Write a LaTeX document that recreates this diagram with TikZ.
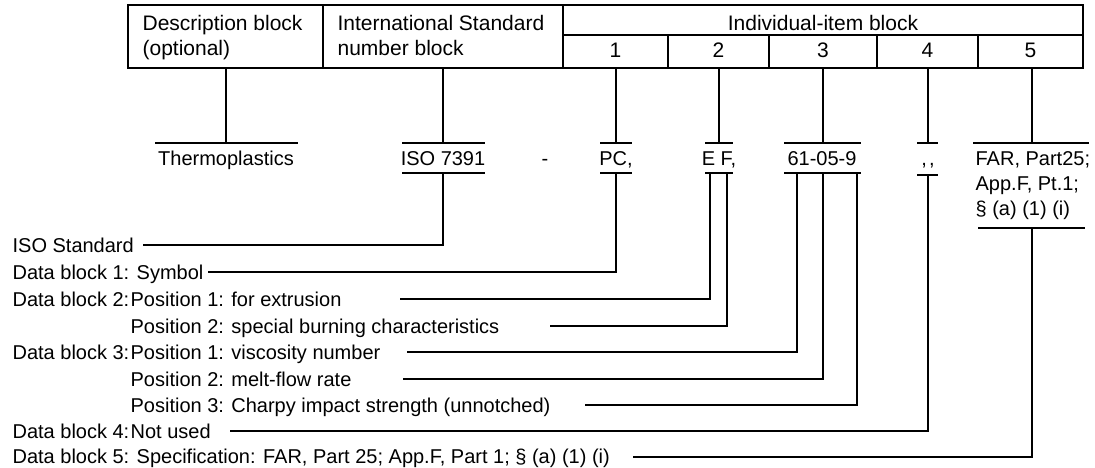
\documentclass[tikz,border=0pt]{standalone}
\usepackage{fontspec}
\setmainfont{Liberation Sans}
\begin{document}
\begin{tikzpicture}[x=1pt,y=-1pt,line width=1.2pt,
  txt/.style={inner sep=0pt,font=\fontsize{20}{24}\selectfont},
  ttxt/.style={inner sep=0pt,font=\fontsize{21}{25}\selectfont},
  lead/.style={line width=1.1pt},
  uline/.style={line width=1.2pt}]
\useasboundingbox (0,0) rectangle (1095,468);

% ---------- table ----------
\draw (128,5) rectangle (1083,68);
\draw (323,5) -- (323,68);
\draw (563,5) -- (563,68);
\draw (563,35) -- (1083,35);
\foreach \x in {668,769,877,978} \draw (\x,35) -- (\x,68);

\node[ttxt,anchor=base west] (desc1) at (142,31) {Description block};
\node[ttxt,anchor=base west] (desc2) at (142,56) {(optional)};
\node[ttxt,anchor=base west] (isn1) at (337,31) {International Standard};
\node[ttxt,anchor=base west] (isn2) at (337,56) {number block};
\node[ttxt,anchor=base] (indiv) at (823,31) {Individual-item block};
\node[ttxt,anchor=base] (n1) at (615.5,58) {1};
\node[ttxt,anchor=base] (n2) at (718.5,58) {2};
\node[ttxt,anchor=base] (n3) at (823,58) {3};
\node[ttxt,anchor=base] (n4) at (927.5,58) {4};
\node[ttxt,anchor=base] (n5) at (1030.5,58) {5};

% table bottom coordinates
\coordinate (tDesc) at (226,68);
\coordinate (tIso) at (443,68);
\coordinate (t1) at (616,68);
\coordinate (t2) at (719,68);
\coordinate (t3) at (823,68);
\coordinate (t4) at (928,68);
\coordinate (t5) at (1032,68);

% ---------- values ----------
\node[txt,anchor=base] (thermo) at (226,165) {Thermoplastics};
\node[txt,anchor=base] (iso) at (443,165) {ISO 7391};
\node[txt,anchor=base] (dash) at (545,165) {-};
\node[txt,anchor=base] (pc) at (616,165) {PC,};
\node[txt,anchor=base] (ef) at (719,165) {E F,};
\node[txt,anchor=base] (num) at (822,165) {61-05-9};
\node[txt,anchor=base] (nu) at (928,165) {,{}\kern2pt{},};
\node[txt,anchor=base west] (far1) at (975,165) {FAR, Part25;};
\node[txt,anchor=base west] (far2) at (975,190) {App.F, Pt.1;};
\node[txt,anchor=base west] (far3) at (975,215) {\S{} (a) (1) (i)};

% upper underlines
\draw[uline] (155,143) -- (298,143);
\draw[uline] (402,143) -- (485,143);
\draw[uline] (600,143) -- (632,143);
\draw[uline] (705,143) -- (733,143);
\draw[uline] (784,143) -- (861,143);
\draw[uline] (917,143) -- (938,143);
\draw[uline] (973,143) -- (1089,143);
% lower underlines
\draw[uline] (402,173) -- (485,173);
\draw[uline] (600,173) -- (632,173);
\draw[uline] (705,173) -- (733,173);
\draw[uline] (784,173) -- (861,173);
\draw[uline] (917,175) -- (938,175);
\draw[uline] (978,228) -- (1085,228);

% tops of value underlines
\coordinate (uDesc) at (226,143);
\coordinate (uIso) at (443,143);
\coordinate (u1) at (616,143);
\coordinate (u2) at (719,143);
\coordinate (u3) at (823,143);
\coordinate (u4) at (928,143);
\coordinate (u5) at (1032,143);

\draw (tDesc) -- (uDesc);
\draw (tIso) -- (uIso);
\draw (t1) -- (u1);
\draw (t2) -- (u2);
\draw (t3) -- (u3);
\draw (t4) -- (u4);
\draw (t5) -- (u5);

% bottom junctions
\coordinate (bIso) at (443,173);
\coordinate (b1) at (616,173);
\coordinate (b2a) at (710,173);
\coordinate (b2b) at (727,173);
\coordinate (b3a) at (797,173);
\coordinate (b3b) at (823,173);
\coordinate (b3c) at (857,173);
\coordinate (b4) at (928,175);
\coordinate (b5) at (1032,228);

% ---------- legend ----------
\node[txt,anchor=base west] (lIso) at (12,252) {ISO Standard};
\node[txt,anchor=base west] (lD1) at (12,279) {Data block 1: Symbol};
\node[txt,anchor=base west] (lD2) at (12,306) {Data block 2:};
\node[txt,anchor=base west] (lD2a) at (130,306) {Position 1: for extrusion};
\node[txt,anchor=base west] (lD2b) at (130,333) {Position 2: special burning characteristics};
\node[txt,anchor=base west] (lD3) at (12,359) {Data block 3:};
\node[txt,anchor=base west] (lD3a) at (130,359) {Position 1: viscosity number};
\node[txt,anchor=base west] (lD3b) at (130,386) {Position 2: melt-flow rate};
\node[txt,anchor=base west] (lD3c) at (130,412) {Position 3: Charpy impact strength (unnotched)};
\node[txt,anchor=base west] (lD4) at (12,438) {Data block 4:};
\node[txt,anchor=base west] (lD4a) at (130,438) {Not used};
\node[txt,anchor=base west] (lD5) at (12,463) {Data block 5: Specification: FAR, Part 25; App.F, Part 1; \S{} (a) (1) (i)};

% leader starts
\coordinate (sIso) at (143,245);
\coordinate (s1) at (208,272);
\coordinate (s2a) at (400,299);
\coordinate (s2b) at (550,326);
\coordinate (s3a) at (407,352);
\coordinate (s3b) at (403,379);
\coordinate (s3c) at (585,405);
\coordinate (s4) at (230,431);
\coordinate (s5) at (633,457);

\draw[lead] (sIso) -| (bIso);
\draw[lead] (s1) -| (b1);
\draw[lead] (s2a) -| (b2a);
\draw[lead] (s2b) -| (b2b);
\draw[lead] (s3a) -| (b3a);
\draw[lead] (s3b) -| (b3b);
\draw[lead] (s3c) -| (b3c);
\draw[lead] (s4) -| (b4);
\draw[lead] (s5) -| (b5);
\end{tikzpicture}
\end{document}
